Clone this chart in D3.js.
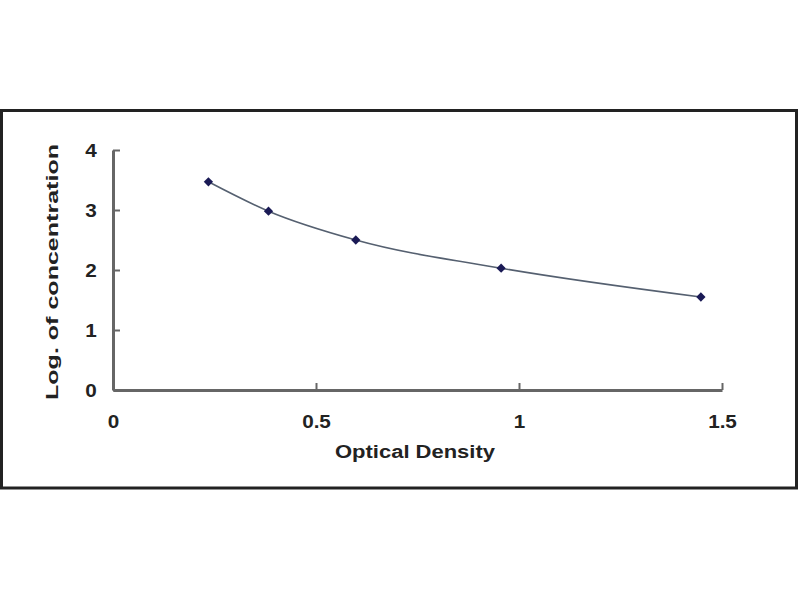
<!DOCTYPE html>
<html><head><meta charset="utf-8">
<script src="https://cdn.jsdelivr.net/npm/d3@7"></script>
<style>body{margin:0;background:#fff}svg{display:block}</style>
</head><body>
<script>
const odValues = [0.235, 0.383, 0.598, 0.956, 1.448];
const logConc = [3.47, 2.98, 2.50, 2.03, 1.55];
const xTicks = [0, 0.5, 1, 1.5];
const yTicks = [0, 1, 2, 3, 4];
const xLabel = "Optical Density";
const yLabel = "Log. of concentration";

const W = 800, H = 600;
const svg = d3.select("body").append("svg").attr("width", W).attr("height", H);
svg.append("rect").attr("width", W).attr("height", H).attr("fill", "#fff");

// outer frame
svg.append("rect").attr("x", 1.5).attr("y", 110.5).attr("width", 795).attr("height", 377.5)
  .attr("fill", "#fff").attr("stroke", "#222").attr("stroke-width", 3);

const x = d3.scaleLinear().domain([0, 1.5]).range([113, 722]);
const y = d3.scaleLinear().domain([0, 4]).range([390, 150]);
const font = "'Liberation Sans', Arial, sans-serif";

const xAxis = svg.append("g").attr("transform", `translate(0,${y(0)})`)
  .call(d3.axisBottom(x).tickValues(xTicks).tickSize(-7).tickSizeOuter(0).tickPadding(0)
    .tickFormat(d => String(d)));
const yAxis = svg.append("g").attr("transform", `translate(${x(0)},0)`)
  .call(d3.axisLeft(y).tickValues(yTicks).tickSize(-7).tickSizeOuter(0).tickPadding(0)
    .tickFormat(d => String(d)));
[xAxis, yAxis].forEach(g => {
  g.select(".domain").attr("stroke", "#666").attr("stroke-width", 3);
  g.selectAll(".tick line").attr("stroke", "#666").attr("stroke-width", 2);
  g.selectAll(".tick text").attr("fill", "#222").attr("font-family", font)
    .attr("font-weight", "bold").attr("font-size", 18);
});
xAxis.selectAll(".tick text").attr("y", null).attr("dy", null)
  .attr("transform", "translate(0,38) scale(1.15,1)");
yAxis.selectAll(".tick text").attr("x", null).attr("dy", "0.36em")
  .attr("text-anchor", "middle")
  .attr("transform", "translate(-22,0) scale(1.15,1)");

svg.append("text").attr("x", 415).attr("y", 458).attr("text-anchor", "middle")
  .attr("font-family", font).attr("font-weight", "bold").attr("font-size", 18)
  .attr("textLength", 160).attr("lengthAdjust", "spacingAndGlyphs")
  .attr("fill", "#222").text(xLabel);
svg.append("text").attr("transform", `translate(58,272) rotate(-90)`).attr("text-anchor", "middle")
  .attr("font-family", font).attr("font-weight", "bold").attr("font-size", 17)
  .attr("textLength", 256).attr("lengthAdjust", "spacingAndGlyphs")
  .attr("fill", "#222").text(yLabel);

const pts = odValues.map((v, i) => [v, logConc[i]]);
svg.append("path").datum(pts)
  .attr("d", d3.line().x(d => x(d[0])).y(d => y(d[1])).curve(d3.curveMonotoneX))
  .attr("fill", "none").attr("stroke", "#556070").attr("stroke-width", 1.6);

svg.selectAll(".pt").data(pts).enter().append("path")
  .attr("transform", d => `translate(${x(d[0])},${y(d[1])})`)
  .attr("d", d3.symbol(d3.symbolDiamond2, 55)())
  .attr("fill", "#1a1a55");
</script>
</body></html>
